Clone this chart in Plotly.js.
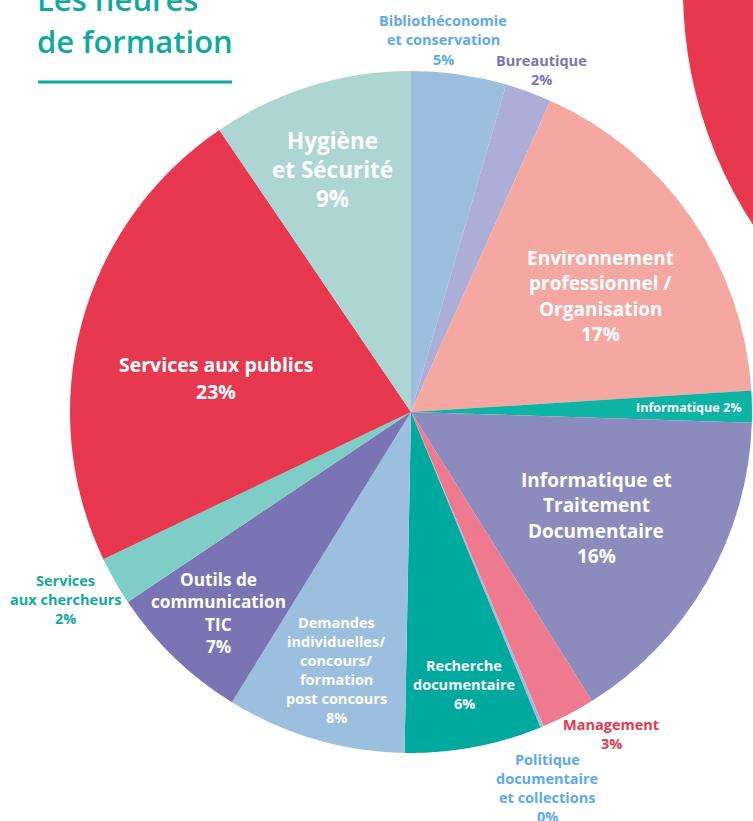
<!DOCTYPE html>
<html>
<head>
<meta charset="utf-8">
<script src="https://cdn.plot.ly/plotly-3.0.1.min.js"></script>
<style>html,body{margin:0;padding:0;background:#fff;}#chart{width:753px;height:821px;}</style>
</head>
<body>
<div id="chart"></div>
<script>
// ---- data ----
const categories = [
  "Bibliothéconomie et conservation", "Bureautique", "Environnement professionnel / Organisation",
  "Informatique", "Informatique et Traitement Documentaire", "Management",
  "Politique documentaire et collections", "Recherche documentaire",
  "Demandes individuelles/concours/formation post concours", "Outils de communication TIC",
  "Services aux chercheurs", "Services aux publics", "Hygiène et Sécurité"
];
const values = [4.5, 2.2, 17.3, 1.5, 15.6, 2.55, 0.15, 6.5, 8.5, 6.8, 2.3, 22.6, 9.5];
const pctLabels = ["5%", "2%", "17%", "2%", "16%", "3%", "0%", "6%", "8%", "7%", "2%", "23%", "9%"];
const labelLines = [
  ["Bibliothéconomie", "et conservation"],
  ["Bureautique"],
  ["Environnement", "professionnel /", "Organisation"],
  ["Informatique"],
  ["Informatique et", "Traitement", "Documentaire"],
  ["Management"],
  ["Politique", "documentaire", "et collections"],
  ["Recherche", "documentaire"],
  ["Demandes", "individuelles/", "concours/", "formation", "post concours"],
  ["Outils de", "communication", "TIC"],
  ["Services", "aux chercheurs"],
  ["Services aux publics"],
  ["Hygiène", "et Sécurité"]
];
const titleLines = ["Les heures", "de formation"];

// ---- styles ----
const W = 753, H = 821;
const px = x => x / W, py = y => 1 - y / H;
const sliceColors = ["#9DBFDF", "#ADAED8", "#F4A8A1", "#0DB3A3", "#8B8CBD", "#EF7A8F", "#9DBFDF",
  "#00A99E", "#9DBFDF", "#7A74B4", "#7ECDC7", "#E8384F", "#ADD5D3"];
const FONT = "'Open Sans', Lato, sans-serif";
// label placement: x center, first-line center y, line gap, font size, colour, inline pct
const labelStyle = [
  {x: 443, y: 20, gap: 19.5, size: 14.5, color: "#5EA8EC"},
  {x: 541, y: 61, gap: 19, size: 14.5, color: "#7A74B4"},
  {x: 600, y: 258, gap: 25.3, size: 19, color: "#ffffff"},
  {x: 689, y: 408, gap: 0, size: 12.6, color: "#ffffff", inline: true},
  {x: 596, y: 480, gap: 25.3, size: 19, color: "#ffffff"},
  {x: 611, y: 724, gap: 19, size: 14.5, color: "#E8384F"},
  {x: 547, y: 759, gap: 19.3, size: 14.5, color: "#5EA8EC"},
  {x: 464, y: 665, gap: 19.3, size: 14.5, color: "#ffffff"},
  {x: 336, y: 622, gap: 19, size: 14.5, color: "#ffffff"},
  {x: 218, y: 579, gap: 22.6, size: 17.2, color: "#ffffff"},
  {x: 65, y: 580, gap: 19, size: 14.5, color: "#10A99D"},
  {x: 216, y: 365, gap: 26, size: 19.5, color: "#ffffff"},
  {x: 332, y: 140, gap: 29, size: 22.5, color: "#ffffff"}
];

const annotations = [];
labelLines.forEach((lines, i) => {
  const s = labelStyle[i];
  const all = s.inline ? [lines.join(" ") + " " + pctLabels[i]] : lines.concat([pctLabels[i]]);
  all.forEach((t, k) => {
    annotations.push({
      xref: "paper", yref: "paper", x: px(s.x), y: py(s.y + k * s.gap),
      xanchor: "center", yanchor: "middle", showarrow: false, text: "<b>" + t + "</b>",
      font: {family: FONT, size: s.size, color: s.color}
    });
  });
});
titleLines.forEach((t, k) => {
  annotations.push({
    xref: "paper", yref: "paper", x: px(35), y: py(-1 + k * 42),
    xanchor: "left", yanchor: "middle", showarrow: false, text: t,
    font: {family: FONT, size: 31, color: "#10A99D", weight: 600}
  });
});

// pie geometry: centre (411,412), radius 341
const cx = 411, cy = 412, R = 341;
const trace = {
  type: "pie", labels: categories, values: values, sort: false, direction: "clockwise", rotation: 0,
  marker: {colors: sliceColors, line: {width: 0}}, textinfo: "none", hoverinfo: "label+percent",
  domain: {x: [px(cx - R), px(cx + R)], y: [py(cy + R), py(cy - R)]}, showlegend: false
};

const layout = {
  width: W, height: H, margin: {l: 0, r: 0, t: 0, b: 0},
  paper_bgcolor: "#ffffff", plot_bgcolor: "#ffffff", showlegend: false,
  annotations: annotations,
  shapes: [
    {type: "circle", xref: "paper", yref: "paper", layer: "below",
     x0: px(1112 - 429), x1: px(1112 + 429), y0: py(-10 + 429), y1: py(-10 - 429),
     fillcolor: "#E8384F", line: {width: 0}},
    {type: "line", xref: "paper", yref: "paper", x0: px(38), x1: px(232), y0: py(82), y1: py(82),
     line: {color: "#10A99D", width: 3}}
  ]
};
Plotly.newPlot("chart", [trace], layout, {staticPlot: true});
</script>
</body>
</html>
